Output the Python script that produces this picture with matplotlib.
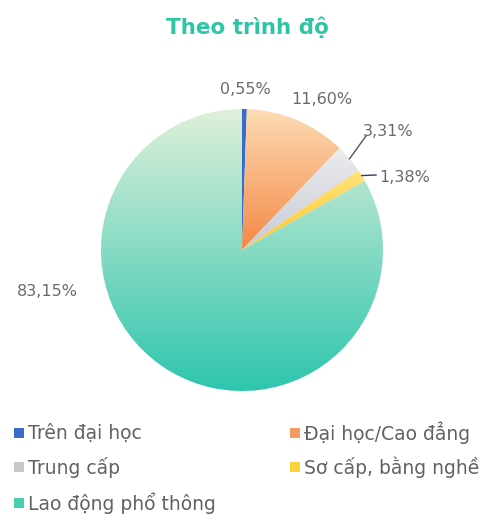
## Pie chart: Theo trình độ

import numpy as np
import matplotlib
matplotlib.use("Agg")
import matplotlib.pyplot as plt
from matplotlib.colors import LinearSegmentedColormap

plt.rcParams['font.family'] = ['DejaVu Sans']

## -----------------------
## Data
categories = ["Trên đại học", "Đại học/Cao đẳng", "Trung cấp",
              "Sơ cấp, bằng nghề", "Lao động phổ thông"]
values = [0.55, 11.60, 3.31, 1.38, 83.15]
labels = ["0,55%", "11,60%", "3,31%", "1,38%", "83,15%"]

## gradient colours per slice (top, bottom)
grad_colors = [("#3a6cc6", "#3a6cc6"),
               ("#fcdcb4", "#f48845"),
               ("#ececef", "#c6cad2"),
               ("#ffe27a", "#fbc92e"),
               ("#dff0da", "#2ec5ae")]
legend_colors = ["#3a6cc6", "#f39a62", "#c8c8c8", "#fcd13a", "#49cfae"]

## -----------------------
## Figure in pixel coordinates
fig = plt.figure(figsize=(5.0, 5.24), dpi=100)
ax = fig.add_axes([0, 0, 1, 1])

cx, cy, r = 242, 274, 141
wedges, _ = ax.pie(values, startangle=90, counterclock=False, radius=r,
                   center=(cx, cy), wedgeprops=dict(linewidth=0), frame=True)
ax.set_aspect('equal')
ax.axis('off')

## gradient fill clipped to each wedge
grad = np.linspace(0, 1, 256).reshape(-1, 1)
for w, (c_top, c_bot) in zip(wedges, grad_colors):
    w.set_facecolor('none')
    bb = w.get_path().get_extents(w.get_transform() - ax.transData)
    cmap = LinearSegmentedColormap.from_list("g", [c_top, c_bot])
    im = ax.imshow(grad, cmap=cmap, aspect='auto', origin='upper',
                   extent=(bb.x0, bb.x1, bb.y0, bb.y1), zorder=1)
    im.set_clip_path(w)
ax.set_xlim(0, 500)
ax.set_ylim(0, 524)

## -----------------------
## Percent labels
txt_col = "#6b6b6b"
lab_pos = [(245, 434), (322, 425), (388, 393), (405, 346), (47, 232)]
for lab, (x, y) in zip(labels, lab_pos):
    ax.text(x, y, lab, ha='center', va='center', fontsize=11.5, color=txt_col)

## leader lines for small slices
cum = np.cumsum([0] + values)
for i, end in [(2, (366, 388)), (3, (376, 349))]:
    mid = 90 - (cum[i] + values[i] / 2) / 100 * 360
    px = cx + r * np.cos(np.radians(mid))
    py = cy + r * np.sin(np.radians(mid))
    col = "#555555" if i == 2 else "#2b3f6b"
    ax.plot([px, end[0]], [py, end[1]], color=col, lw=1)

## -----------------------
## Title
ax.text(247, 497, "Theo trình độ", ha='center', va='center', fontsize=15.5,
        fontweight='bold', color="#2fc4a4")

## Legend
leg_pos = [(14, 91), (290, 91), (14, 57), (290, 57), (14, 21)]
for cat, col, (x, y) in zip(categories, legend_colors, leg_pos):
    ax.add_patch(plt.Rectangle((x, y - 5), 10, 10, color=col, lw=0))
    ax.text(x + 14, y, cat, ha='left', va='center', fontsize=13.5, color="#626262")

fig.savefig("out.png", dpi=100, facecolor='white')
